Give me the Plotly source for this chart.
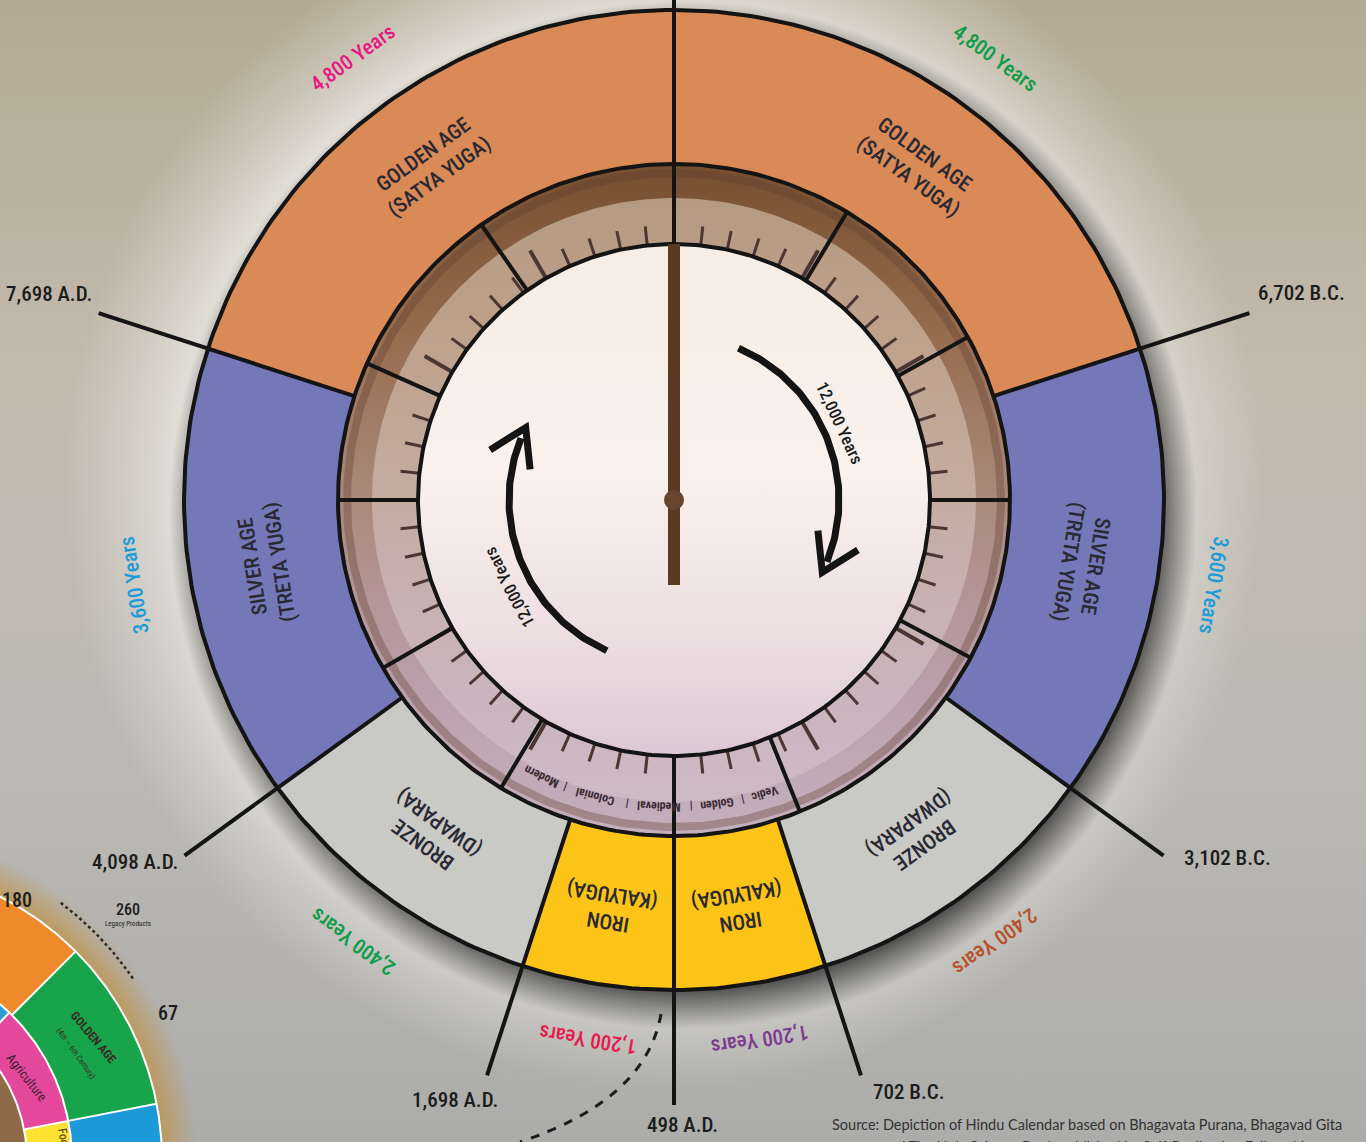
import numpy as np
import plotly.graph_objects as go

# ---------------- data ----------------
age_names = ["GOLDEN AGE<br>(SATYA YUGA)", "SILVER AGE<br>(TRETA YUGA)",
             "BRONZE<br>(DWAPARA)", "IRON<br>(KALYUGA)"]
age_years = [4800, 3600, 2400, 1200]
age_year_labels = ["4,800 Years", "3,600 Years", "2,400 Years", "1,200 Years"]
bottom_year_ad = 498                     # year at the bottom of the cycle
arrow_label = "12,000 Years"
era_words = ["Vedic", "Golden", "Medieval", "Colonial", "Modern"]
inner_divider_deg = [31, 61, 90, 118, 158, 211, 240, 270, 294, 325]
side_outer_deg = [0, 45, 79, 130]        # partial side chart (outer ring)
side_inner_deg = [0, 44, 79, 130]        # partial side chart (inner ring)
side_numbers = ["180", "260", "67"]
side_texts = ["GOLDEN AGE", "(4th \u2014 6th Century)", "Agriculture", "Food", "Legacy Products"]
source_lines = ["Source: Depiction of Hindu Calendar based on Bhagavata Purana, Bhagavad Gita",
                "and The Holy Science Book published by Self-Realization Fellowship"]

# ---------------- style ----------------
W, H = 1366, 1142
FONT = "Roboto Condensed, Roboto, sans-serif"
CX, CY = 674, 500
R_OUT, R_MID, R_IN, R_LINE = 490, 336, 256, 605
age_colors = ["#d98a56", "#7478b8", "#c9c9c5", "#fcc417"]
yrs_color_right = ["#0d9d49", "#1c9bd8", "#b4522b", "#7b3b8e"]
yrs_color_left = ["#e5197f", "#1c9bd8", "#0d9d49", "#e61a4c"]
INK = "#141414"

traces, anns = [], []


def norm(a):
    return (a + 180.0) % 360.0 - 180.0


def pol(r, th, c=(CX, CY)):
    t = np.radians(th)
    return c[0] + r * np.sin(t), c[1] - r * np.cos(t)


def add_line(x, y, color, width, dash=None):
    traces.append(go.Scatter(x=list(x), y=list(y), mode="lines",
                             line=dict(color=color, width=width, dash=dash),
                             hoverinfo="skip"))


def add_fill(x, y, color=None, grad=None):
    kw = dict(x=list(x), y=list(y), mode="lines", line=dict(width=0),
              fill="toself", hoverinfo="skip")
    if grad is not None:
        kw["fillgradient"] = grad
    else:
        kw["fillcolor"] = color
    traces.append(go.Scatter(**kw))


def circle(r, c=(CX, CY), n=361):
    return pol(r, np.linspace(0, 360, n), c)


def sector(r0, r1, a0, a1, c=(CX, CY), n=120):
    t = np.linspace(a0, a1, n)
    xo, yo = pol(r1, t, c)
    xi, yi = pol(r0, t[::-1], c)
    return np.r_[xo, xi, xo[:1]], np.r_[yo, yi, yo[:1]]


def txt(s, x, y, size, color, angle=0, weight="normal", family=FONT,
        xanchor="center", yanchor="middle", xshift=0, yshift=0):
    anns.append(dict(text=s, x=x, y=y, xref="x", yref="y", showarrow=False,
                     textangle=norm(angle),
                     font=dict(size=size, color=color, family=family, weight=weight),
                     xanchor=xanchor, yanchor=yanchor, xshift=xshift, yshift=yshift,
                     align="center"))


# ---------------- background ----------------
add_fill([0, W, W, 0, 0], [0, 0, H, H, 0],
         grad=dict(type="vertical", start=0, stop=H,
                   colorscale=[[0, "rgb(180,170,148)"], [0.35, "rgb(194,188,175)"],
                               [0.7, "rgb(186,184,179)"], [1, "rgb(172,172,170)"]]))

# ---------------- partial side chart (bottom-left) ----------------
SC = (-133, 1160)
x, y = circle(330, SC)
add_fill(x, y, grad=dict(type="radial",
                         colorscale=[[0, "rgba(190,150,84,0.9)"], [0.89, "rgba(190,150,84,0.9)"],
                                     [1, "rgba(190,150,84,0)"]]))
x, y = circle(205, SC)
add_fill(x, y, "#8e6a48")
for (a0, a1), col in zip(zip(side_outer_deg[:-1], side_outer_deg[1:]), ["#ee8a2b", "#17a44a", "#1b9ad7"]):
    x, y = sector(205, 295, a0, a1, SC)
    add_fill(x, y, col)
for (a0, a1), col in zip(zip(side_inner_deg[:-1], side_inner_deg[1:]), ["#2b9bd3", "#e4489b", "#fde233"]):
    x, y = sector(160, 205, a0, a1, SC)
    add_fill(x, y, col)
for rr in (160, 205, 295):
    x, y = pol(rr, np.linspace(0, 130, 200), SC)
    add_line(x, y, "white", 2)
for a in side_outer_deg[1:3]:
    x, y = pol(np.array([205, 295]), np.array([a, a]), SC)
    add_line(x, y, "white", 2)
for a in side_inner_deg[1:3]:
    x, y = pol(np.array([160, 205]), np.array([a, a]), SC)
    add_line(x, y, "white", 2)
x, y = pol(322, np.linspace(37, 56, 60), SC)
add_line(x, y, "#2a2a2a", 2.5, dash="dot")

# ---------------- halo and shadow of the main wheel ----------------
x, y = circle(600, (CX - 10, CY - 10))
add_fill(x, y, grad=dict(type="radial",
                         colorscale=[[0, "rgba(236,234,229,0.8)"], [0.8, "rgba(236,234,229,0.8)"],
                                     [0.9, "rgba(236,234,229,0.35)"], [1, "rgba(236,234,229,0)"]]))
x, y = circle(514, (CX + 9, CY + 15))
add_fill(x, y, grad=dict(type="radial",
                         colorscale=[[0, "rgba(30,30,30,0.85)"], [0.91, "rgba(30,30,30,0.85)"],
                                     [1, "rgba(30,30,30,0)"]]))

# ---------------- outer ring (ages) ----------------
half_cycle = sum(age_years)
deg_per_year = 180.0 / half_cycle
bounds = np.cumsum([0] + age_years)
for i, yrs in enumerate(age_years):
    a0, a1 = bounds[i] * deg_per_year, bounds[i + 1] * deg_per_year
    for sgn in (1, -1):
        x, y = sector(R_MID, R_OUT, min(sgn * a0, sgn * a1), max(sgn * a0, sgn * a1))
        add_fill(x, y, age_colors[i])

# ---------------- clock face ----------------
x, y = circle(R_MID)
add_fill(x, y, grad=dict(type="vertical", start=CY - R_MID, stop=CY + R_MID,
                         colorscale=[[0, "rgb(118,78,48)"], [0.25, "rgb(150,108,78)"],
                                     [0.5, "rgb(170,138,124)"], [0.78, "rgb(186,160,172)"],
                                     [1, "rgb(198,176,190)"]]))
x, y = circle(302)
add_fill(x, y, grad=dict(type="vertical", start=CY - 302, stop=CY + 302,
                         colorscale=[[0, "rgba(238,224,206,0.5)"], [0.5, "rgba(236,225,220,0.4)"],
                                     [1, "rgba(226,210,220,0.35)"]]))
x, y = circle(327)
add_line(x, y, "rgba(95,60,45,0.35)", 8)
x, y = circle(R_IN)
add_fill(x, y, grad=dict(type="vertical", start=CY - R_IN, stop=CY + R_IN,
                         colorscale=[[0, "rgb(246,238,228)"], [0.45, "rgb(248,241,237)"],
                                     [0.75, "rgb(238,223,226)"], [1, "rgb(220,199,212)"]]))

# minute ticks
for a in range(6, 360, 6):
    if a == 180:
        continue
    long_tick = (a % 30 == 0)
    x, y = pol(np.array([R_IN, R_IN + (32 if long_tick else 19)]), np.array([a, a]))
    add_line(x, y, "rgb(74,54,50)", 4 if long_tick else 3)

# inner dividers of the clock ring
for a in inner_divider_deg:
    x, y = pol(np.array([R_IN, R_MID]), np.array([a, a]))
    add_line(x, y, INK, 4)

# circle outlines
for rr in (R_OUT, R_MID, R_IN):
    x, y = circle(rr)
    add_line(x, y, INK, 4)

# boundary lines and date labels
date_offsets = {  # (xshift, yshift) of labels relative to line ends
    72: (52, 20), 126: (64, -2), 162: (48, -17), 180: (8, -20),
    -162: (-32, -25), -126: (-50, -6), -72: (-50, 19)}
x, y = pol(np.array([R_IN, R_LINE]), np.array([0, 0]))
add_line(x, y, INK, 4)
for c in bounds[1:]:
    th = c * deg_per_year
    for sgn in (1, -1):
        if th == 180 and sgn == -1:
            continue
        a = sgn * th
        r0 = R_IN if th == 180 else R_MID
        x, y = pol(np.array([r0, R_LINE]), np.array([a, a]))
        add_line(x, y, INK, 4)
        year = bottom_year_ad - sgn * (half_cycle - c)
        label = f"{abs(year):,} {'A.D.' if year > 0 else 'B.C.'}"
        ex, ey = pol(R_LINE, a)
        dx, dy = date_offsets[int(round(a))]
        txt(label, ex, ey, 21, "#1c1c1c", xshift=dx, yshift=dy, weight=500)

# age labels and durations
for i in range(len(age_years)):
    m = (bounds[i] + bounds[i + 1]) / 2 * deg_per_year
    for sgn, cols in ((1, yrs_color_right), (-1, yrs_color_left)):
        a = sgn * m
        lx, ly = pol(413, a)
        txt(age_names[i], lx, ly, 21, "#2a2933", angle=a, weight=500)
        dx_, dy_ = pol(546, a)
        txt(age_year_labels[i], dx_, dy_, 21, cols[i], angle=a, weight=500)

# era words in the lower band of the clock ring, laid out along the arc
R_ERA = 307
tokens = []
for k, w in enumerate(era_words):
    if k:
        tokens.append("|")
    tokens.append(w)
char_w = 5.9
widths = [(len(t) * char_w if t != "|" else 3) + 7 for t in tokens]
total = sum(widths)
pos = 184.5 - np.degrees(total / 2 / R_ERA)
for t, wd in zip(tokens, widths):
    a = pos + np.degrees(wd / 2 / R_ERA)
    ex, ey = pol(R_ERA, a)
    txt(t, ex, ey, 12, "#3b2b33", angle=a, weight="bold")
    pos += np.degrees(wd / R_ERA)

# clock hand
x, y = pol(np.array([-85, R_IN]), np.array([0, 0]))
add_line(x, y, "rgb(92,58,34)", 12)
x, y = circle(10)
add_fill(x, y, "rgb(104,70,46)")


# circular arrows
def arrow(r, a0, a1):
    xs, ys = pol(r, np.linspace(a0, a1 - 4, 90))
    add_line(xs, ys, INK, 7)
    tx, ty = pol(r, a1)
    t = np.radians(a1)
    bx, by = -np.cos(t), -np.sin(t)
    pts = []
    for s in (np.radians(32), -np.radians(32)):
        rx = bx * np.cos(s) - by * np.sin(s)
        ry = bx * np.sin(s) + by * np.cos(s)
        pts.append((tx + 42 * rx, ty + 42 * ry))
    add_line([pts[0][0], tx, pts[1][0]], [pts[0][1], ty, pts[1][1]], INK, 7)


arrow(165, 23, 116)
arrow(165, 204, 296)
for a, rr in ((65, 183), (242, 186)):
    ax_, ay_ = pol(rr, a)
    txt(arrow_label, ax_, ay_, 17, "#1c1c1c", angle=a, weight=500)

# ---------------- side chart texts ----------------
txt(side_numbers[0], 0, 900, 20, "#1c1c1c", xanchor="left", weight=500)
txt(side_numbers[1], 128, 909, 16, "#1c1c1c", weight=500)
txt(side_texts[4], 128, 924, 7, "#1c1c1c")
txt(side_numbers[2], 168, 1013, 20, "#1c1c1c", weight=500)
txt(side_texts[0], 93, 1037, 12, "#3a2a20", angle=50, weight="bold")
txt(side_texts[1], 76, 1053, 8, "#3a2a20", angle=54)
txt(side_texts[2], 27, 1077, 13, "#3a2030", angle=52)
txt(side_texts[3], 64, 1140, 12, "#3a3020", angle=80)

# ---------------- source ----------------
txt(source_lines[0], 830, 1124, 14.5, "#333333", family="Lato, Noto Sans, sans-serif", xanchor="left")
txt(source_lines[1], 880, 1141, 14.5, "#333333", family="Lato, Noto Sans, sans-serif",
    xanchor="left", yanchor="top", yshift=5)

# dashed connector
shapes = [dict(type="path", xref="x", yref="y", path="M 661 1014 Q 646 1100 520 1142",
               line=dict(color="#1c1c1c", width=3, dash="dash"))]

fig = go.Figure(traces)
fig.update_layout(width=W, height=H, margin=dict(l=0, r=0, t=0, b=0),
                  paper_bgcolor="rgb(186,180,168)", plot_bgcolor="rgba(0,0,0,0)",
                  showlegend=False, annotations=anns, shapes=shapes,
                  xaxis=dict(range=[0, W], visible=False, fixedrange=True),
                  yaxis=dict(range=[H, 0], visible=False, fixedrange=True))
fig.write_html("out.html", config={"displayModeBar": False},
               post_script="document.body.style.margin='0';document.body.style.padding='0';"
                           "document.body.style.overflow='hidden';")
